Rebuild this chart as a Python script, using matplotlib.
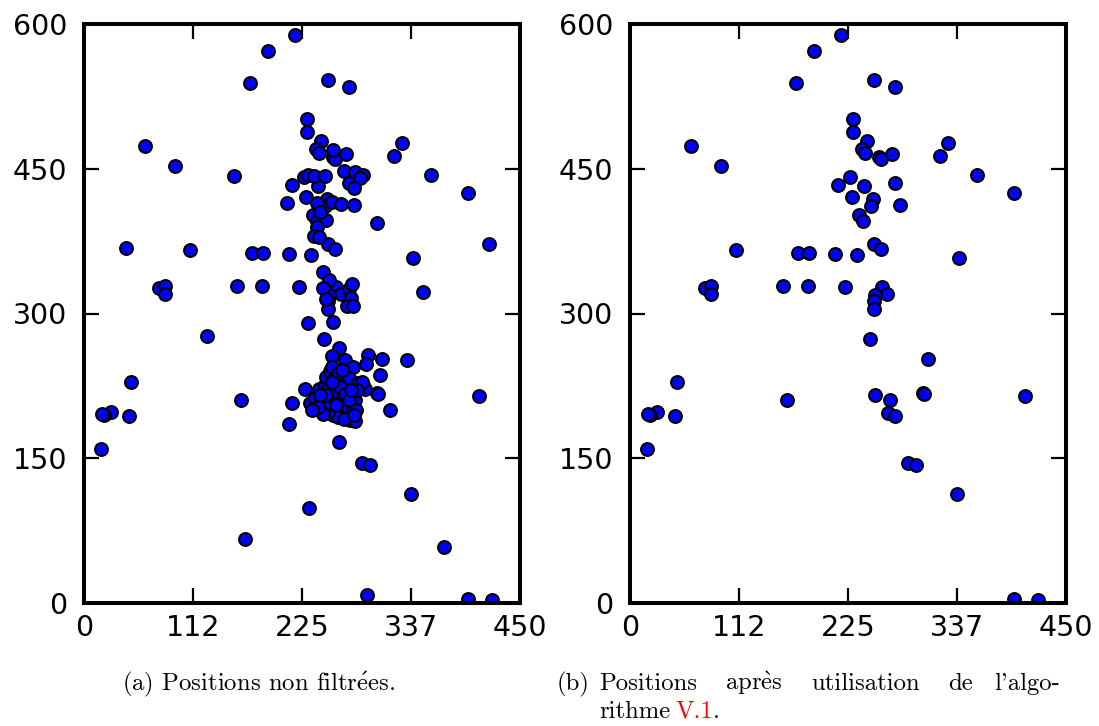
import numpy as np
import matplotlib.pyplot as plt

plt.rcParams['mathtext.fontset'] = 'cm'

# positions kept by the filtering algorithm (right panel)
kept_x = [218, 190, 171, 230, 230, 63, 94, 227, 215, 229, 236, 240, 109, 173, 185, 212, 234,
          158, 184, 222, 77, 84, 84,
          252, 274, 245, 239, 243, 257, 259, 270, 328, 320, 358, 396, 274, 242, 251, 249, 279,
          252, 259, 340, 260, 265, 253, 252, 252,
          48, 28, 21, 19, 46, 18, 162,
          248, 308, 253, 268, 302, 303, 266, 273, 408, 287, 295, 338, 396, 421]
kept_y = [589, 572, 539, 502, 488, 474, 453, 441, 433, 421, 402, 396, 366, 363, 363, 362, 361,
          329, 328, 327, 326, 328, 320,
          542, 535, 479, 470, 466, 462, 460, 465, 477, 463, 444, 425, 435, 432, 419, 411, 412,
          372, 367, 357, 327, 320, 319, 313, 305,
          229, 198, 195, 196, 194, 160, 210,
          274, 253, 216, 210, 218, 217, 197, 194, 214, 145, 143, 113, 4, 3]

# positions removed by the algorithm (only in left panel)
rej_x = [155, 210, 43, 231, 257, 418, 350, 302,
         237, 249, 268, 280, 288, 285, 279, 256, 265, 240, 250, 240, 237, 243, 244,
         247, 253, 247, 273, 277, 276, 271, 278, 250,
         231, 127, 257, 263, 256, 269, 278, 293, 291, 333, 305, 316, 228, 215, 212, 233,
         263, 232, 372, 292, 166,
         238, 243, 245, 249, 250, 252, 254, 256, 257, 259, 261, 262, 264, 266, 268, 269,
         271, 273, 275, 278, 280, 280, 283, 288, 290, 257, 262, 268, 252, 247, 242, 254,
         260, 274, 266, 256, 250, 244, 287, 282, 276, 281, 279, 235]
rej_y = [442, 415, 368, 444, 469, 372, 322, 394,
         442, 443, 448, 447, 444, 440, 430, 416, 413, 414, 397, 390, 380, 379, 405,
         343, 335, 326, 325, 331, 316, 308, 308, 315,
         290, 277, 291, 264, 256, 252, 245, 257, 248, 252, 236, 200, 222, 207, 186, 207,
         167, 98, 58, 8, 66,
         212, 222, 210, 226, 234, 222, 240, 245, 231, 217, 207, 238, 224, 210, 196, 217,
         203, 233, 190, 200, 210, 189, 228, 226, 222, 195, 193, 191, 198, 196, 203, 207,
         205, 210, 241, 229, 216, 216, 229, 221, 221, 200, 195, 200]

tick_vals = [0, 112.5, 225, 337.5, 450]
tick_labels = ['0', '112', '225', '337', '450']
ytick_vals = [0, 150, 300, 450, 600]

W, H = 1099, 726
fig = plt.figure(figsize=(W / 100, H / 100), dpi=100)

all_x = kept_x + rej_x
all_y = kept_y + rej_y

panels = [(84, all_x, all_y), (630, kept_x, kept_y)]
for left, xs, ys in panels:
    ax = fig.add_axes([left / W, (H - 603) / H, 436 / W, 579 / H])
    ax.scatter(xs, ys, s=85, c='#0000ff', edgecolors='black', linewidths=1.5, zorder=1)
    ax.set_xlim(0, 450)
    ax.set_ylim(0, 600)
    ax.set_xticks(tick_vals)
    ax.set_xticklabels(tick_labels)
    ax.set_yticks(ytick_vals)
    for sp in ax.spines.values():
        sp.set_linewidth(2.9)
    ax.tick_params(direction='in', length=11, width=1.6, top=True, right=True,
                   labelsize=20.5)
    ax.tick_params(axis='x', pad=8)
    ax.tick_params(axis='y', pad=12)

serif = ['cmr10', 'DejaVu Serif']
fs = 17.8

def put(x, y, s, **kw):
    return fig.text(x / W, 1 - y / H, s, fontsize=fs, family=serif, va='baseline', **kw)

e_acute = r'$\acute{\mathrm{e}}$'
e_grave = r'$\grave{\mathrm{e}}$'

put(259, 690, '(a) Positions non filtr' + e_acute + 'es.', ha='center')

put(557, 690, '(b)')
put(599, 690, 'Positions')
put(725, 690, 'apr' + e_grave + 's')
put(811, 690, 'utilisation')
put(948, 690, 'de')
put(1060, 690, "l'algo-", ha='right')
t1 = put(599, 718, 'rithme')
t2 = fig.text(0, 0, 'V.1', fontsize=fs, family=serif, color='red', va='baseline')
t3 = fig.text(0, 0, '.', fontsize=fs, family=serif, va='baseline')

# chain the second line pieces after the first word
fig.canvas.draw()
r = fig.canvas.get_renderer()
bb = t1.get_window_extent(r)
t2.set_position(((bb.x1 + 5) / W, 1 - 718 / H))
bb2 = t2.get_window_extent(r)
t3.set_position((bb2.x1 / W, 1 - 718 / H))

fig.savefig('out.png', dpi=100)
